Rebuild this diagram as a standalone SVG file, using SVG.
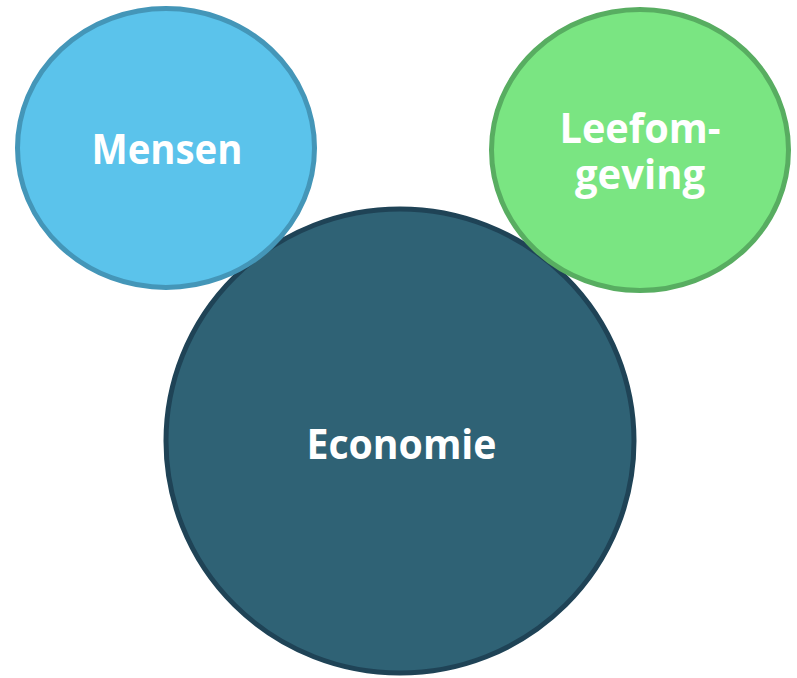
<svg xmlns="http://www.w3.org/2000/svg" width="797" height="678" viewBox="0 0 797 678">
<style>
.lbl{font-family:"Open Sans","Noto Sans","Liberation Sans",sans-serif;font-weight:700;font-size:41px;fill:#ffffff;text-anchor:middle}
</style>
<rect width="797" height="678" fill="#ffffff"/>
<g id="economie">
<ellipse cx="400" cy="441" rx="234" ry="232" fill="#2F6275" stroke="#1F4356" stroke-width="5"/>
<text class="lbl" x="401.5" y="459" textLength="190" lengthAdjust="spacingAndGlyphs">Economie</text>
</g>
<g id="mensen">
<ellipse cx="166" cy="148" rx="148.5" ry="139.5" fill="#5BC3EB" stroke="#4496B8" stroke-width="5"/>
<text class="lbl" x="167" y="164" textLength="151" lengthAdjust="spacingAndGlyphs">Mensen</text>
</g>
<g id="leefomgeving">
<ellipse cx="640" cy="150" rx="148.5" ry="140.5" fill="#7AE582" stroke="#58AD61" stroke-width="5"/>
<text class="lbl" x="640" y="143" textLength="161" lengthAdjust="spacingAndGlyphs">Leefom-</text>
<text class="lbl" x="640" y="189" textLength="130" lengthAdjust="spacingAndGlyphs">geving</text>
</g>
<g id="connectors"/>
</svg>
